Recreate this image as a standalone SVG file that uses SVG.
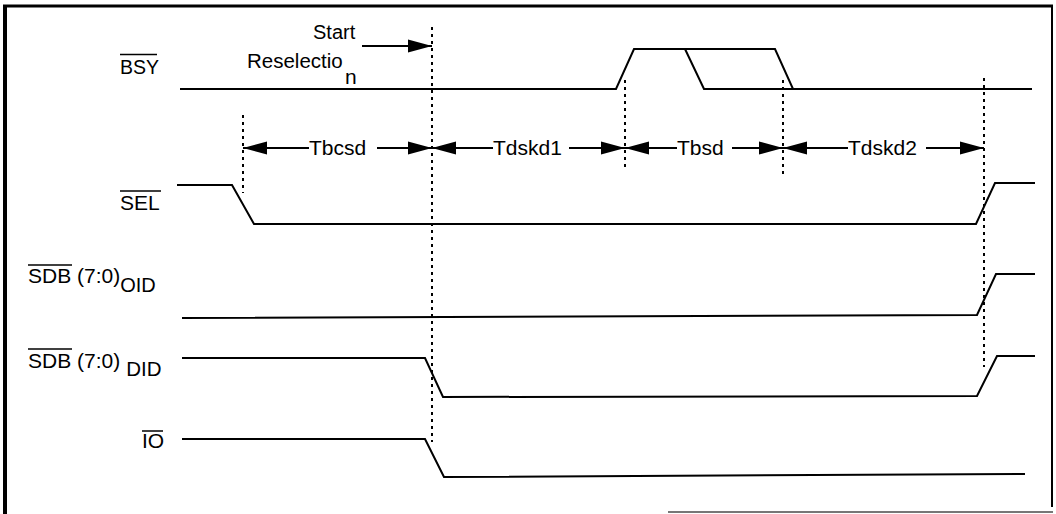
<svg xmlns="http://www.w3.org/2000/svg" width="1056" height="514" viewBox="0 0 1056 514">
<style>
.t{font-family:"Liberation Sans",Arial,sans-serif;font-size:21px;fill:#000}
.w{fill:none;stroke:#000;stroke-width:2;stroke-linejoin:miter}
.ov{stroke:#000;stroke-width:1.5}
.dot{stroke:#000;stroke-width:2;stroke-dasharray:3 4;fill:none}
.ar{stroke:#000;stroke-width:2;fill:none;marker-end:url(#ah)}
</style>
<defs>
<marker id="ah" markerUnits="userSpaceOnUse" viewBox="0 0 24 14" markerWidth="24" markerHeight="14" refX="24" refY="7" orient="auto">
<path d="M0,0.5 L24,7 L0,13.5 Z" fill="#000"/>
</marker>
</defs>
<rect width="1056" height="514" fill="#fff"/>
<g id="frame">
<line x1="5" y1="5" x2="5" y2="514" stroke="#000" stroke-width="4"/>
<line x1="3" y1="6" x2="1053" y2="6" stroke="#000" stroke-width="3"/>
<line x1="1052" y1="5" x2="1052" y2="507" stroke="#000" stroke-width="2"/>
<line x1="668" y1="512" x2="1053" y2="512" stroke="#777" stroke-width="2"/>
</g>
<g id="sig-bsy">
<text class="t" x="120" y="74" style="font-size:19.5px">BSY</text>
<line class="ov" x1="120" y1="54.5" x2="157" y2="54.5"/>
<path class="w" d="M180,89 H616 L634,49 H775 L793,89 H1032"/>
<path class="w" d="M685,49 L704,89 H793"/>
</g>
<g id="sig-sel">
<text class="t" x="120" y="210">SEL</text>
<line class="ov" x1="120" y1="191" x2="161" y2="191"/>
<path class="w" d="M177,185 H232 L254,224 H976 L995,183 H1035"/>
</g>
<g id="sig-sdb-oid">
<text class="t" x="28" y="283">SDB (7:0)<tspan dy="9" style="font-size:20px">OID</tspan></text>
<line class="ov" x1="28" y1="265" x2="72" y2="265"/>
<path class="w" d="M182,318 L977,315 L996,274 H1035"/>
</g>
<g id="sig-sdb-did">
<text class="t" x="28" y="368">SDB (7:0)<tspan dx="6" dy="8" style="font-size:20.5px">DID</tspan></text>
<line class="ov" x1="28" y1="349" x2="72" y2="349"/>
<path class="w" d="M182,358 H425 L443,397 L977,396 L997,356 H1035"/>
</g>
<g id="sig-io">
<text class="t" x="142" y="448">IO</text>
<line class="ov" x1="142" y1="431" x2="163" y2="431"/>
<path class="w" d="M182,439 H425 L444,477 L1025,474"/>
</g>
<g id="start-label">
<text class="t" x="313" y="39" style="font-size:20px">Start</text>
<text class="t" x="247" y="68" style="font-size:20.5px">Reselectio</text>
<text class="t" x="345" y="84">n</text>
</g>
<g id="connectors">
<line class="dot" x1="243" y1="115" x2="243" y2="193"/>
<line class="dot" x1="432" y1="27" x2="432" y2="442"/>
<line class="dot" x1="625" y1="80" x2="625" y2="168"/>
<line class="dot" x1="783" y1="80" x2="783" y2="175"/>
<line class="dot" x1="984" y1="78" x2="984" y2="367"/>
<line class="ar" x1="362" y1="46" x2="432" y2="46"/>
<line class="ar" x1="309" y1="148" x2="243" y2="148"/>
<line class="ar" x1="377" y1="148" x2="432" y2="148"/>
<line class="ar" x1="493" y1="148" x2="432" y2="148"/>
<line class="ar" x1="569" y1="148" x2="625" y2="148"/>
<line class="ar" x1="677" y1="148" x2="625" y2="148"/>
<line class="ar" x1="732" y1="148" x2="783" y2="148"/>
<line class="ar" x1="848" y1="148" x2="783" y2="148"/>
<line class="ar" x1="926" y1="148" x2="984" y2="148"/>
</g>
<g id="timing-labels">
<text class="t" x="309" y="155">Tbcsd</text>
<text class="t" x="493" y="155">Tdskd1</text>
<text class="t" x="677" y="155">Tbsd</text>
<text class="t" x="848" y="155">Tdskd2</text>
</g>
</svg>
